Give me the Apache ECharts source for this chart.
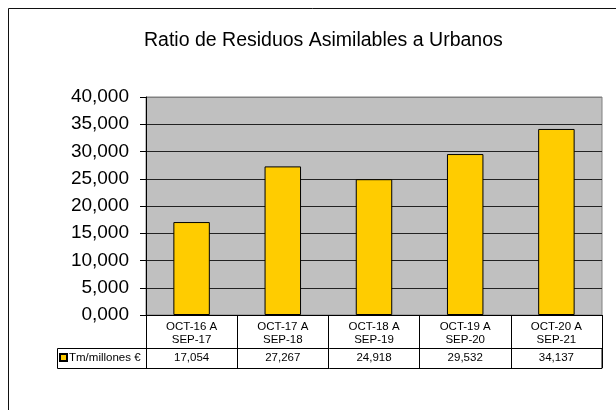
<!DOCTYPE html>
<html>
<head>
<meta charset="utf-8">
<script src="https://cdn.jsdelivr.net/npm/echarts@6/dist/echarts.min.js"></script>
<style>
  html, body { margin: 0; padding: 0; background: #fff; }
  #chart { width: 616px; height: 410px; }
</style>
</head>
<body>
<div id="chart"></div>
<script>
// datos del gráfico
var categorias = ["OCT-16 A\nSEP-17", "OCT-17 A\nSEP-18", "OCT-18 A\nSEP-19", "OCT-19 A\nSEP-20", "OCT-20 A\nSEP-21"];
var valores = [17.054, 27.267, 24.918, 29.532, 34.137];
var serieNombre = "Tm/millones €";
var titulo = "Ratio de Residuos Asimilables a Urbanos";

var fuente = "Arial, 'Liberation Sans', sans-serif";

// formato con coma decimal, tres decimales
function fmt(v) {
  return v.toFixed(3).replace(".", ",");
}

var chart = echarts.init(document.getElementById("chart"));

var option = {
  animation: false,
  textStyle: { fontFamily: fuente, color: "#000" },
  title: {
    text: titulo,
    left: 144,
    top: 31,
    padding: 0,
    textStyle: { fontSize: 19.5, fontWeight: "normal", color: "#000", fontFamily: fuente }
  },
  legend: {
    data: [serieNombre],
    left: 59,
    top: 351.5,
    padding: 0,
    itemWidth: 7,
    itemHeight: 7,
    icon: "rect",
    textStyle: { fontSize: 11.5, color: "#000", fontFamily: fuente, padding: [0, 0, 0, -3] }
  },
  grid: {
    left: 146,
    right: 14,
    top: 97,
    bottom: 95,
    show: true,
    backgroundColor: "#C0C0C0",
    borderColor: "#808080",
    borderWidth: 1
  },
  xAxis: [
    {
      type: "category",
      data: categorias,
      axisLine: { lineStyle: { color: "#000", width: 1 } },
      axisTick: { show: true, length: 53, lineStyle: { color: "#000" } },
      axisLabel: {
        fontSize: 11.5,
        lineHeight: 13,
        margin: 5,
        color: "#000",
        fontFamily: fuente
      }
    },
    {
      // fila de valores de la tabla
      type: "category",
      position: "bottom",
      offset: 33,
      data: valores.map(fmt),
      axisLine: { show: false },
      axisTick: { show: false },
      axisLabel: { fontSize: 11.5, margin: 4, color: "#000", fontFamily: fuente }
    }
  ],
  yAxis: {
    type: "value",
    min: 0,
    max: 40,
    interval: 5,
    axisLine: { show: true, lineStyle: { color: "#000" } },
    axisTick: { show: true, length: 6, lineStyle: { color: "#000" } },
    axisLabel: {
      fontSize: 19,
      margin: 17,
      color: "#000",
      fontFamily: fuente,
      formatter: fmt
    },
    splitLine: {
      show: true,
      lineStyle: {
        color: ["#222", "#222", "#222", "#222", "#222", "#222", "#222", "#222", "#808080"],
        width: 1
      }
    }
  },
  series: [
    {
      name: serieNombre,
      type: "bar",
      data: valores,
      barWidth: "40%",
      itemStyle: { color: "#FFCC00", borderColor: "#000", borderWidth: 1 }
    }
  ],
  graphic: [
    {
      // marco exterior
      type: "rect",
      silent: true,
      shape: { x: 8.5, y: 8.5, width: 700, height: 500 },
      style: { fill: "none", stroke: "#111", lineWidth: 1 }
    },
    {
      // bordes de la tabla de datos
      type: "rect",
      silent: true,
      z: 10,
      shape: { x: 57.5, y: 348.5, width: 544.5, height: 20 },
      style: { fill: "none", stroke: "#000", lineWidth: 1 }
    }
  ]
};

chart.setOption(option);
</script>
</body>
</html>
